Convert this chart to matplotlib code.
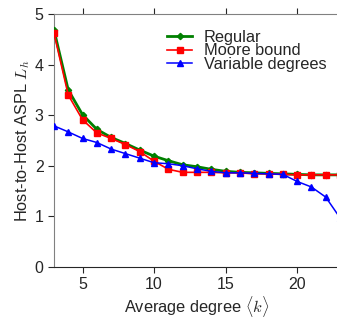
import matplotlib
matplotlib.use("Agg")
import matplotlib.pyplot as plt

degrees = list(range(3, 24))
regular = [4.69, 3.50, 3.01, 2.72, 2.56, 2.44, 2.31, 2.19, 2.10, 2.02, 1.98, 1.93,
           1.89, 1.87, 1.86, 1.85, 1.84, 1.83, 1.82, 1.82, 1.82]
moore = [4.63, 3.40, 2.91, 2.65, 2.54, 2.42, 2.28, 2.09, 1.93, 1.87, 1.87, 1.87,
         1.86, 1.86, 1.84, 1.84, 1.83, 1.82, 1.82, 1.82, 1.82]
variable = [2.79, 2.67, 2.54, 2.46, 2.33, 2.24, 2.15, 2.06, 2.04, 2.00, 1.94, 1.89,
            1.86, 1.86, 1.85, 1.84, 1.83, 1.69, 1.58, 1.38, 0.97]

plt.rcParams["font.family"] = ["Liberation Sans", "DejaVu Sans"]
plt.rcParams["mathtext.fontset"] = "cm"
plt.rcParams["text.color"] = "#262626"
plt.rcParams["axes.labelcolor"] = "#262626"
plt.rcParams["xtick.color"] = "#262626"
plt.rcParams["ytick.color"] = "#262626"

fig = plt.figure(figsize=(3.37, 3.2), dpi=100)
ax = fig.add_axes([0.160, 0.166, 0.849, 0.790])

ax.plot(degrees, regular, color="green", lw=2.0, marker="D", ms=3.2, label="Regular", zorder=3)
ax.plot(degrees, moore, color="red", lw=1.2, marker="s", ms=5.0, label="Moore bound", zorder=4)
ax.plot(degrees, variable, color="blue", lw=1.1, marker="^", ms=3.8, label="Variable degrees", zorder=5)

ax.set_xlim(3, 23)
ax.set_ylim(0, 5)
ax.set_xticks([5, 10, 15, 20])
ax.set_yticks([0, 1, 2, 3, 4, 5])
ax.tick_params(axis="both", direction="out", length=4, labelsize=11.5)
ax.tick_params(axis="x", top=True)
for side in ["left", "top"]:
    ax.spines[side].set_color("#808080")
ax.spines["bottom"].set_color("#262626")
ax.spines["right"].set_visible(False)

ax.set_xlabel(r"Average degree $\langle k \rangle$", fontsize=11.8, labelpad=1)
ax.set_ylabel(r"Host-to-Host ASPL $L_h$", fontsize=11.8, labelpad=2)

ax.legend(loc="upper right", bbox_to_anchor=(1.005, 0.995), frameon=False, fontsize=11.8,
          labelspacing=-0.1, handlelength=1.5, handletextpad=0.75)

fig.savefig("out.png", dpi=100)
